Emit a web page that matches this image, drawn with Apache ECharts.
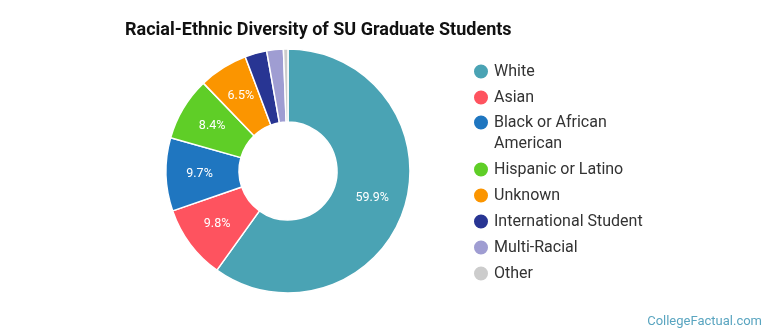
<!DOCTYPE html>
<html>
<head>
<meta charset="utf-8">
<script src="https://cdn.jsdelivr.net/npm/echarts@6/dist/echarts.min.js"></script>
<style>
    html, body { margin: 0; padding: 0; background: #fff; }
    #chart { width: 770px; height: 335px; }
</style>
</head>
<body>
<div id="chart"></div>
<script>
// Data
const categories = ["White", "Asian", "Black or African American", "Hispanic or Latino",
    "Unknown", "International Student", "Multi-Racial", "Other"];
const shares = [59.9, 9.8, 9.7, 8.4, 6.5, 2.9, 2.2, 0.6];
const colors = ["#4aa3b4", "#fe535f", "#1f76c0", "#5fce27", "#fb9500", "#283593", "#9f9dd2", "#cccccc"];

const chart = echarts.init(document.getElementById("chart"));

const legendText = { fontFamily: "Roboto", fontSize: 16, color: "#333", lineHeight: 21 };

// shared legend look; the list is split in three so the wrapped entry lines up like the original
function legendBlock(top, names, formatter) {
    return {
        orient: "vertical",
        left: 472,
        top: top,
        padding: 0,
        itemGap: 5,
        itemWidth: 16,
        itemHeight: 16,
        icon: "circle",
        textStyle: legendText,
        formatter: formatter,
        data: names,
    };
}

chart.setOption({
    animation: false,
    title: {
        text: "Racial-Ethnic Diversity of SU Graduate Students",
        left: 120,
        top: 16,
        textStyle: { fontFamily: "Roboto", fontWeight: "bold", fontSize: 18, color: "#111" },
    },
    legend: [
        legendBlock(61, categories.slice(0, 2)),
        // blank first line keeps the icon beside "Black or African"
        legendBlock(91, categories.slice(2, 3), () => " \nBlack or African\nAmerican"),
        legendBlock(159, categories.slice(3)),
    ],
    graphic: [
        {
            type: "text",
            right: 8,
            bottom: 7,
            style: { text: "CollegeFactual.com", fontFamily: "Roboto", fontSize: 13, fill: "#5aa5c0" },
        },
    ],
    series: [
        {
            type: "pie",
            center: [288, 171],
            radius: [49, 122],
            startAngle: 90,
            clockwise: true,
            avoidLabelOverlap: false,
            itemStyle: { borderColor: "#fff", borderWidth: 1.5 },
            label: {
                show: true,
                position: "inside",
                fontFamily: "Roboto",
                fontSize: 12.5,
                color: "#fff",
                formatter: (p) => (p.value >= 5 ? p.value.toFixed(1) + "%" : ""),
            },
            labelLine: { show: false },
            emphasis: { disabled: true },
            data: categories.map((n, i) => ({ name: n, value: shares[i], itemStyle: { color: colors[i] } })),
        },
    ],
});
</script>
</body>
</html>
